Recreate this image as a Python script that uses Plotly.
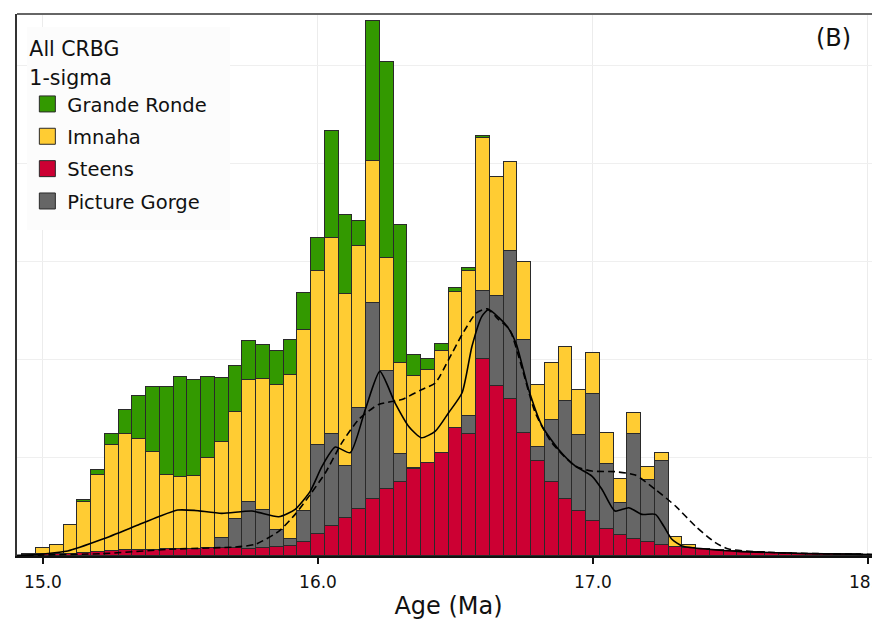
import plotly.graph_objects as go

# ---- data (bin centres in Ma, bin width 0.05 Ma) ----
age_bins = [14.95, 15.00, 15.05, 15.10, 15.15, 15.20, 15.25, 15.30, 15.35, 15.40,
            15.45, 15.50, 15.55, 15.60, 15.65, 15.70, 15.75, 15.80, 15.85, 15.90,
            15.95, 16.00, 16.05, 16.10, 16.15, 16.20, 16.25, 16.30, 16.35, 16.40,
            16.45, 16.50, 16.55, 16.60, 16.65, 16.70, 16.75, 16.80, 16.85, 16.90,
            16.95, 17.00, 17.05, 17.10, 17.15, 17.20, 17.25, 17.30, 17.35, 17.40,
            17.45, 17.50, 17.55, 17.60, 17.65, 17.70, 17.75, 17.80, 17.85, 17.90,
            17.95, 18.00, 18.05]

steens = [0.10, 0.17, 0.24, 0.24, 0.34, 0.41, 0.47, 0.64, 0.64, 0.64,
          0.68, 0.71, 0.75, 0.81, 0.81, 0.81, 0.75, 0.81, 0.92, 1.05,
          1.46, 2.20, 3.02, 3.87, 4.75, 5.76, 6.78, 7.58, 8.85, 9.50,
          10.51, 13.05, 12.38, 20.07, 17.29, 16.00, 12.55, 9.66, 7.53, 5.83,
          4.58, 3.56, 2.78, 2.10, 1.70, 1.42, 1.12, 0.95, 0.85, 0.72,
          0.60, 0.50, 0.42, 0.36, 0.31, 0.27, 0.24, 0.22, 0.20, 0.18,
          0.17, 0.15, 0.13]

picture_gorge = [0, 0, 0, 0, 0, 0, 0, 0, 0, 0,
                 0, 0, 0, 0.04, 0.99, 2.99, 4.80, 3.84, 1.73, 0.72,
                 3.12, 9.06, 9.36, 5.28, 10.35, 20.02, 12.11, 2.76, 0.13, 0,
                 0, 0, 1.86, 6.96, 9.23, 15.03, 9.49, 1.43, 6.31, 9.94,
                 7.70, 12.89, 6.55, 3.33, 10.75, 6.28, 8.54, 0, 0, 0,
                 0, 0, 0, 0, 0, 0, 0, 0, 0, 0,
                 0, 0, 0]

imnaha = [0.15, 0.61, 0.85, 2.88, 5.12, 7.83, 10.86, 11.79, 11.26, 9.94,
          7.56, 7.32, 7.38, 9.15, 9.77, 10.82, 12.35, 13.35, 14.72, 16.64,
          18.48, 17.77, 20.04, 17.50, 16.50, 14.47, 11.51, 9.28, 9.32, 9.49,
          10.41, 13.84, 14.82, 15.53, 12.07, 9.08, 7.91, 6.37, 5.79, 5.53,
          4.67, 4.23, 3.15, 2.44, 2.13, 1.35, 0.85, 0.98, 0.30, 0.03,
          0, 0, 0, 0, 0, 0, 0, 0, 0, 0,
          0, 0, 0]

grande_ronde = [0, 0, 0, 0, 0.21, 0.47, 1.12, 2.39, 4.35, 6.61,
                8.95, 10.17, 9.84, 8.20, 6.57, 4.78, 3.97, 3.45, 3.48, 3.56,
                3.74, 3.32, 10.85, 8.04, 2.55, 14.28, 19.96, 14.12, 2.17, 1.08,
                0.71, 0.41, 0.32, 0.17, 0, 0, 0, 0, 0, 0,
                0, 0, 0, 0, 0, 0, 0, 0, 0, 0,
                0, 0, 0, 0, 0, 0, 0, 0, 0, 0,
                0, 0, 0]

# density curves (same vertical scale)
solid_age = [14.90, 14.95, 15.00, 15.09, 15.215, 15.336, 15.42, 15.49, 15.55, 15.65,
             15.76, 15.857, 15.917, 15.972, 16.015, 16.063, 16.117, 16.172, 16.225, 16.28,
             16.33, 16.376, 16.427, 16.475, 16.524, 16.56, 16.596, 16.62, 16.657, 16.69,
             16.72, 16.766, 16.815, 16.875, 16.936, 16.996, 17.033, 17.08, 17.13, 17.178,
             17.227, 17.257, 17.287, 17.324, 17.42, 17.54, 17.784, 18.06]
solid_val = [0.05, 0.10, 0.20, 0.51, 1.70, 3.05, 4.00, 4.68, 4.65, 4.34,
             4.58, 4.00, 4.75, 6.61, 9.15, 11.09, 10.52, 14.92, 18.80, 15.60,
             13.20, 12.04, 12.72, 14.59, 16.62, 21.36, 24.41, 25.10, 24.30, 23.30,
             21.70, 16.96, 13.23, 10.85, 9.15, 8.14, 6.78, 4.58, 4.92, 4.24,
             4.24, 3.05, 1.70, 1.02, 0.68, 0.45, 0.24, 0.14]

dashed_age = [14.90, 15.00, 15.215, 15.457, 15.70, 15.772, 15.857, 15.917, 15.972, 16.027,
              16.087, 16.148, 16.22, 16.305, 16.378, 16.427, 16.475, 16.524, 16.576, 16.615,
              16.657, 16.697, 16.74, 16.79, 16.85, 16.936, 16.996, 17.08, 17.154, 17.227,
              17.30, 17.372, 17.445, 17.493, 17.66, 18.06]
dashed_val = [0.03, 0.10, 0.24, 0.68, 0.92, 1.19, 2.51, 4.24, 6.27, 8.48,
              11.54, 13.90, 15.43, 15.94, 16.96, 17.64, 20.00, 22.55, 24.76, 25.17,
              24.08, 23.06, 19.33, 14.59, 11.54, 9.15, 8.65, 8.59, 8.24, 6.78,
              5.09, 3.05, 1.36, 0.71, 0.35, 0.14]

tick_vals = [15, 16, 17, 18]
tick_text = ["15.0", "16.0", "17.0", "18.0"]

colors = {"Grande Ronde": "#339900", "Imnaha": "#FFCC33",
          "Steens": "#CC0033", "Picture Gorge": "#666666"}
values = {"Grande Ronde": grande_ronde, "Imnaha": imnaha,
          "Steens": steens, "Picture Gorge": picture_gorge}
legend_order = ["Grande Ronde", "Imnaha", "Steens", "Picture Gorge"]
stack_order = ["Steens", "Picture Gorge", "Imnaha", "Grande Ronde"]

FONT = "DejaVu Sans"
fig = go.Figure()

# legend entries (larger swatches), added first to fix legend order
for name in legend_order:
    fig.add_trace(go.Scatter(
        x=[None], y=[None], mode="markers", name=name, legendgroup=name,
        marker=dict(symbol="square", size=16, color=colors[name],
                    line=dict(color="#2a2a2a", width=1)),
    ))

for name in stack_order:
    fig.add_trace(go.Bar(
        x=age_bins, y=values[name], width=0.05, name=name, legendgroup=name,
        showlegend=False,
        marker=dict(color=colors[name], line=dict(color="#2a2a2a", width=1)),
    ))

fig.add_trace(go.Scatter(x=solid_age, y=solid_val, mode="lines", showlegend=False,
                         line=dict(color="black", width=1.6, shape="spline", smoothing=0.6)))
fig.add_trace(go.Scatter(x=dashed_age, y=dashed_val, mode="lines", showlegend=False,
                         line=dict(color="black", width=1.6, dash="7px,4px",
                                   shape="spline", smoothing=0.6)))

# page has an 8px body margin: figure is 872x612, placed at (8, 8)
fig.update_layout(
    width=872, height=612,
    margin=dict(l=9, r=0, t=6, b=64, autoexpand=False),
    paper_bgcolor="white", plot_bgcolor="white",
    barmode="stack", bargap=0,
    font=dict(family=FONT, color="#111111"),
    legend=dict(
        x=0.012, y=0.975, xanchor="left", yanchor="top",
        bgcolor="rgba(0,0,0,0)", borderwidth=0,
        font=dict(family=FONT, size=19.5, color="#111111"),
        title=dict(text="<span style='font-size:20.5px'>All CRBG</span><br>"
                        "<span style='font-size:20.5px'>1-sigma</span>",
                   font=dict(family=FONT, size=22)),
        tracegroupgap=4, traceorder="grouped", itemsizing="trace",
    ),
    xaxis=dict(
        range=[14.9055, 18.0437], tickvals=tick_vals, ticktext=tick_text,
        ticks="outside", ticklen=6, tickcolor="#111", tickwidth=1.5,
        ticklabelstandoff=4, ticklabeloverflow="allow",
        tickfont=dict(family=FONT, size=17, color="#111"),
        showgrid=True, gridcolor="#ececec", gridwidth=1,
        showline=True, linecolor="#111", linewidth=2, zeroline=False,
        title=dict(text="Age (Ma)", font=dict(family=FONT, size=24, color="#111"),
                   standoff=6),
        automargin=False,
    ),
    yaxis=dict(
        range=[0, 55.2], dtick=10, showticklabels=False, ticks="",
        showgrid=True, gridcolor="#efefef", gridwidth=1,
        showline=True, linecolor="#333", linewidth=1.5, zeroline=False,
        automargin=False,
    ),
    shapes=[
        dict(type="line", xref="paper", yref="paper", x0=0, x1=1, y0=1, y1=1,
             line=dict(color="#666666", width=2)),
        dict(type="rect", xref="paper", yref="paper", x0=0.0116, x1=0.2468,
             y0=0.6015, y1=0.976, layer="above",
             fillcolor="rgba(252,252,252,0.97)", line=dict(width=0)),
    ],
    annotations=[dict(text="(B)", xref="paper", yref="paper", x=0.946, y=0.955,
                      xanchor="center", yanchor="middle", showarrow=False,
                      font=dict(family=FONT, size=24, color="#111"))],
)

fig.write_html("out.html")
